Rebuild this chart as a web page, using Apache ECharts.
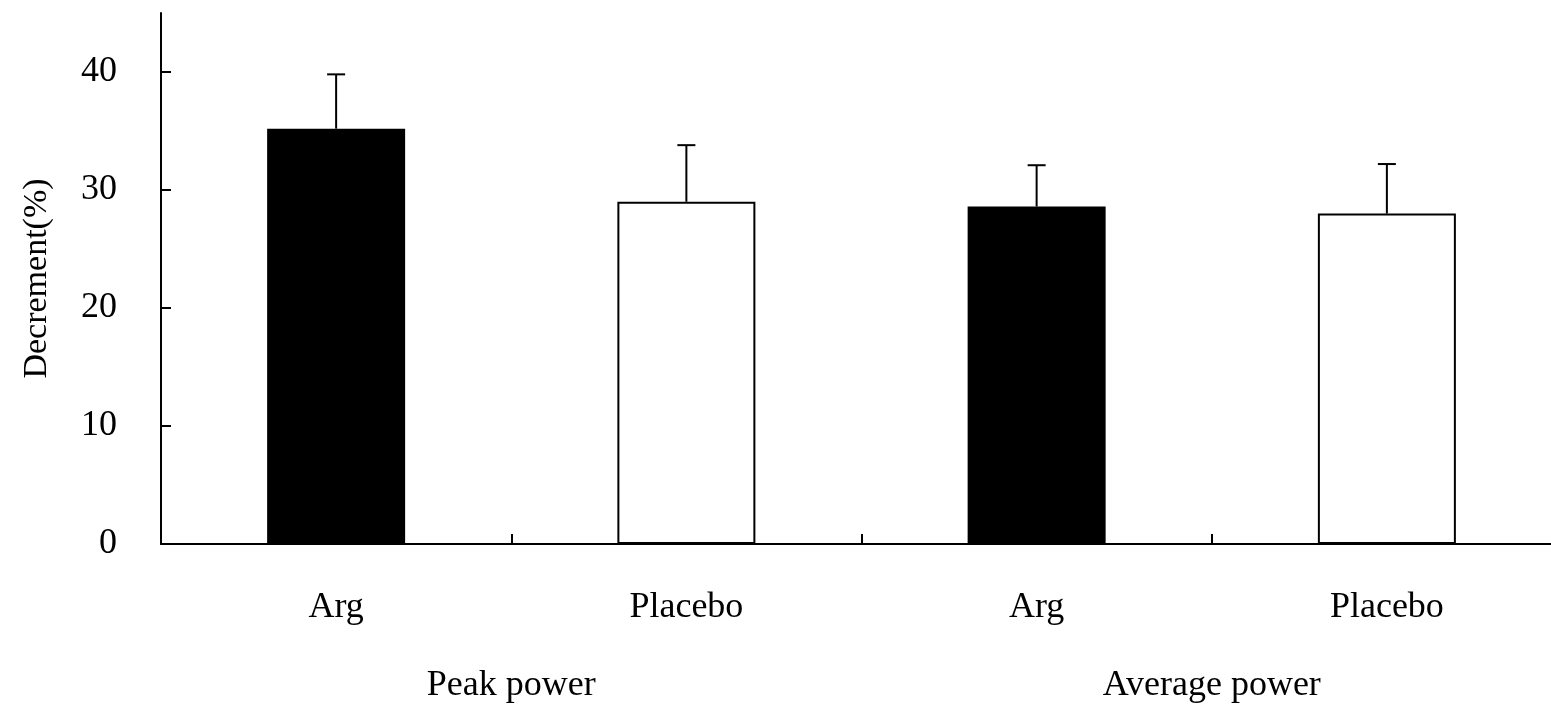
<!DOCTYPE html>
<html>
<head>
<meta charset="utf-8">
<script src="https://cdn.jsdelivr.net/npm/echarts@6/dist/echarts.min.js"></script>
<style>
  html, body { margin: 0; padding: 0; background: #fff; overflow: hidden; }
  /* 原图横轴延伸到画面右侧之外 */
  #chart { width: 1562px; height: 708px; }
</style>
</head>
<body>
<div id="chart"></div>
<script>
// 数据
const categories = ['Arg', 'Placebo', 'Arg', 'Placebo'];
const groups = ['Peak power', 'Average power'];
const means = [35.2, 29.0, 28.6, 28.0];
const upper = [39.8, 33.8, 32.1, 32.2];
const barColors = ['#000', '#fff', '#000', '#fff'];
const yTicks = [0, 10, 20, 30, 40];

const font = 'Liberation Serif';
const chart = echarts.init(document.getElementById('chart'));

const option = {
  backgroundColor: '#fff',
  animation: false,
  grid: { left: 161, top: 13, right: 0, bottom: 164 },
  xAxis: [
    {
      type: 'category',
      data: categories,
      axisLine: { lineStyle: { color: '#000', width: 2 } },
      axisTick: { show: true, interval: 0, inside: true, length: 10, lineStyle: { color: '#000', width: 2 } },
      axisLabel: { margin: 46, color: '#000', fontFamily: font, fontSize: 36 },
    },
    {
      type: 'category',
      data: groups,
      position: 'bottom',
      axisLine: { show: false },
      axisTick: { show: false },
      axisLabel: { margin: 124, color: '#000', fontFamily: font, fontSize: 36 },
    },
  ],
  yAxis: {
    type: 'value',
    min: 0,
    max: 45,
    interval: 10,
    name: 'Decrement(%)',
    nameLocation: 'middle',
    nameGap: 107,
    nameTextStyle: { color: '#000', fontFamily: font, fontSize: 34 },
    splitLine: { show: false },
    axisLine: { show: true, lineStyle: { color: '#000', width: 2 } },
    axisTick: {
      show: true, inside: true, length: 10, customValues: yTicks,
      lineStyle: { color: '#000', width: 2 },
    },
    axisLabel: {
      margin: 44, color: '#000', fontFamily: font, fontSize: 36, customValues: yTicks,
    },
  },
  series: [
    {
      type: 'bar',
      barWidth: 138,
      data: means.map((v, i) => ({
        value: v,
        itemStyle: { color: barColors[i], borderColor: '#000', borderWidth: 2 },
      })),
    },
    {
      // 误差线
      type: 'custom',
      z: 5,
      data: means.map((v, i) => [i, v, upper[i]]),
      renderItem: (params, api) => {
        const base = api.coord([api.value(0), api.value(1)]);
        const top = api.coord([api.value(0), api.value(2)]);
        const style = { stroke: '#000', lineWidth: 2 };
        return {
          type: 'group',
          children: [
            { type: 'line', shape: { x1: base[0], y1: base[1], x2: top[0], y2: top[1] }, style },
            { type: 'line', shape: { x1: top[0] - 9, y1: top[1], x2: top[0] + 9, y2: top[1] }, style },
          ],
        };
      },
    },
  ],
};
chart.setOption(option);
</script>
</body>
</html>
